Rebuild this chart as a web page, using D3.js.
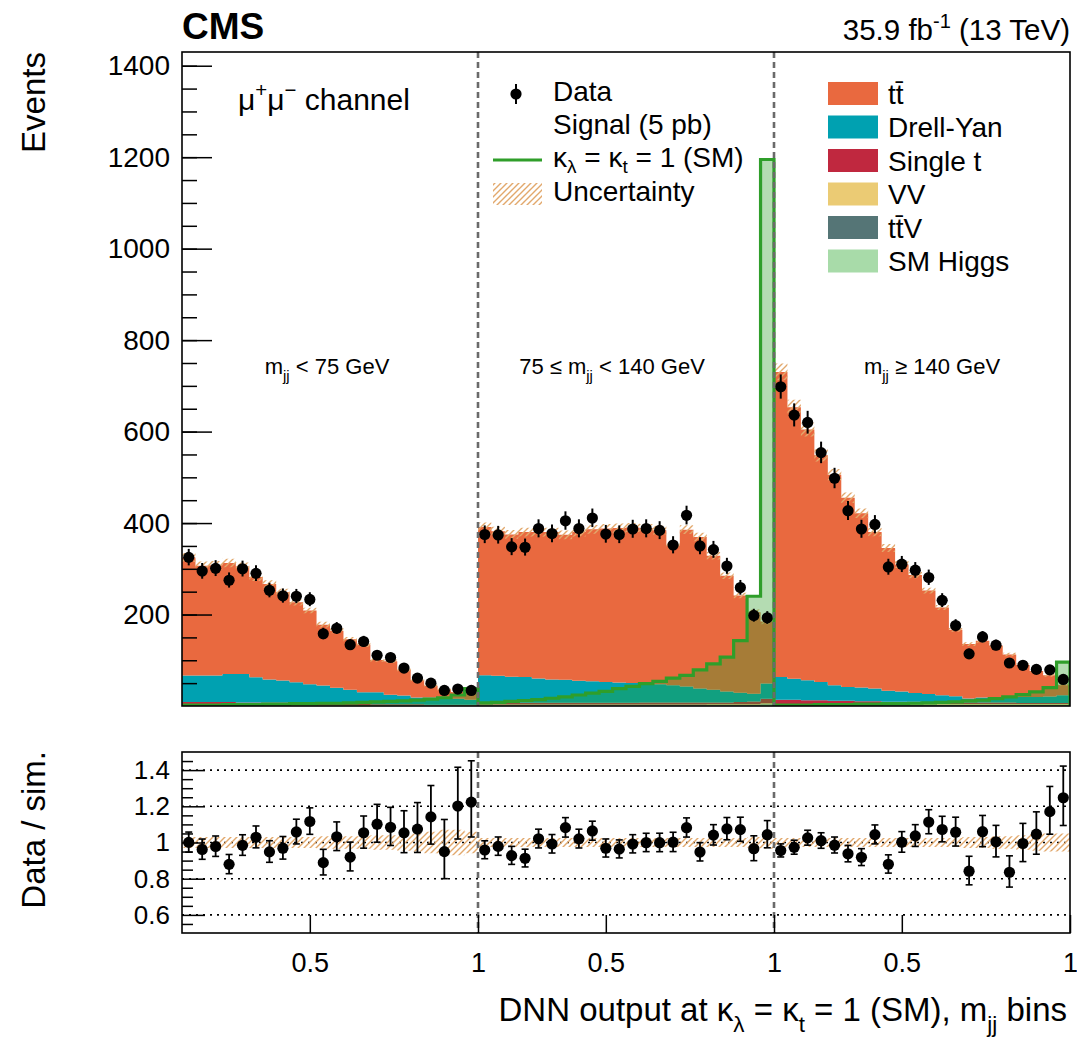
<!DOCTYPE html>
<html>
<head>
<meta charset="utf-8">
<script src="https://cdn.jsdelivr.net/npm/d3@7"></script>
<style>
  body { margin: 0; background: #fff; }
  svg { display: block; }
  text { font-family: "Liberation Sans", Arial, Helvetica, sans-serif; fill: #000; }
</style>
</head>
<body>
<svg id="chart" width="1077" height="1043"></svg>
<script>
// ---- Binning: three m_jj regions, 22 DNN bins each (DNN output 0.12 .. 1.0) ----
const dnnLow = 0.12, dnnHigh = 1.0, binsPerRegion = 22;
const xTickValues = [0.5, 1];

// ---- Observed events per bin (regions concatenated) ----
const dataCounts = [
  325, 295, 301, 275, 300, 290, 253, 241, 240, 233, 158, 170, 134, 141, 111, 106, 83, 61, 50, 34, 37, 34,
  375, 374, 348, 347, 388, 377, 405, 388, 411, 376, 375, 387, 388, 384, 352, 417, 350, 342, 306, 259, 198, 193,
  698, 636, 620, 554, 498, 427, 387, 397, 304, 310, 297, 281, 231, 176, 114, 151, 133, 94, 89, 80, 79, 58
];

// ---- Simulated backgrounds ----
const ttbar = [
  258, 240, 241, 243, 235, 219, 209, 193, 175, 161, 133, 125, 110, 104, 71, 73, 56, 38, 25, 20, 15, 14,
  324, 316, 311, 317, 320, 322, 317, 325, 332, 336, 338, 340, 339, 337, 306, 343, 331, 293, 253, 213, 178, 136,
  667, 594, 548, 496, 460, 414, 381, 342, 312, 278, 258, 226, 192, 145, 119, 124, 113, 92, 70, 57, 47, 23
];
const drellYan = [
  58, 58, 58, 61, 62, 55, 50, 48, 45, 41, 39, 35, 31, 25, 26, 21, 19, 15, 16, 13, 13, 11,
  60, 59, 57, 56, 53, 51, 50, 48, 47, 45, 44, 43, 42, 40, 38, 35, 31, 28, 24, 20, 17, 33,
  50, 46, 44, 40, 34, 30, 30, 28, 24, 22, 19, 18, 15, 13, 9, 11, 12, 13, 13, 13, 14, 17
];
const singleTop = [
  6, 6, 6, 6, 5, 5, 5, 5, 4, 4, 4, 3, 3, 3, 2, 2, 2, 2, 1, 1, 1, 1,
  4, 4, 4, 4, 4, 4, 4, 4, 4, 4, 4, 4, 4, 4, 4, 4, 4, 4, 4, 5, 6, 10,
  9, 9, 8, 8, 7, 7, 6, 6, 5, 5, 5, 4, 4, 4, 3, 3, 3, 3, 2, 2, 2, 2
];
const diboson = [
  2, 2, 2, 2, 2, 2, 2, 2, 2, 2, 1, 1, 1, 1, 1, 1, 1, 1, 1, 1, 1, 1,
  2, 2, 2, 2, 2, 2, 2, 2, 2, 2, 2, 2, 2, 2, 2, 2, 2, 2, 2, 2, 2, 2,
  2, 2, 2, 2, 2, 2, 2, 2, 2, 2, 2, 2, 2, 2, 2, 2, 2, 2, 2, 2, 2, 2
];
const ttV = [
  0.5, 0.5, 0.5, 0.5, 0.5, 0.5, 0.5, 0.5, 0.5, 0.5, 0.5, 0.5, 0.5, 0.5, 0.5, 0.5, 0.5, 0.5, 0.5, 0.5, 0.5, 0.5,
  1, 1, 1, 1, 1, 1, 1, 1, 1, 1, 1, 1, 1, 1, 1, 1, 1, 1, 1, 1, 1, 1,
  2, 2, 2, 2, 2, 2, 2, 2, 2, 2, 2, 2, 2, 2, 2, 2, 2, 2, 2, 2, 2, 2
];
const smHiggs = [
  0.3, 0.3, 0.3, 0.3, 0.3, 0.3, 0.3, 0.3, 0.3, 0.3, 0.3, 0.3, 0.3, 0.3, 0.3, 0.3, 0.3, 0.3, 0.3, 0.3, 0.3, 0.3,
  0.2, 0.2, 0.2, 0.2, 0.2, 0.2, 0.2, 0.3, 0.3, 0.3, 0.3, 0.3, 0.4, 0.4, 0.4, 0.5, 0.5, 0.6, 0.7, 0.8, 1, 3,
  0.5, 0.5, 0.5, 0.5, 0.5, 0.5, 0.5, 0.5, 0.5, 0.5, 0.5, 0.5, 0.5, 0.5, 0.5, 0.5, 0.5, 0.5, 0.5, 0.5, 0.5, 0.5
];

// ---- HH signal (5 pb), SM couplings ----
const signal = [
  2, 2, 2, 3, 3, 3, 4, 4, 5, 5, 6, 6, 7, 8, 9, 10, 11, 13, 15, 18, 24, 38,
  7, 8, 10, 12, 14, 17, 20, 24, 28, 32, 38, 43, 49, 54, 61, 67, 79, 92, 107, 143, 240, 1195,
  2, 2, 2, 3, 3, 3, 4, 4, 5, 5, 6, 7, 8, 9, 11, 13, 16, 20, 25, 31, 40, 96
];

// ---- Relative systematic uncertainty of the total simulation ----
const relUnc = [
  0.03, 0.03, 0.03, 0.03, 0.03, 0.03, 0.03, 0.03, 0.03, 0.03, 0.035, 0.035, 0.035, 0.035, 0.04, 0.04, 0.045, 0.05, 0.06, 0.07, 0.07, 0.06,
  0.025, 0.025, 0.025, 0.025, 0.025, 0.025, 0.025, 0.025, 0.025, 0.025, 0.025, 0.025, 0.025, 0.025, 0.025, 0.025, 0.025, 0.025, 0.025, 0.025, 0.03, 0.035,
  0.025, 0.025, 0.025, 0.025, 0.025, 0.025, 0.025, 0.025, 0.025, 0.025, 0.025, 0.025, 0.025, 0.025, 0.03, 0.03, 0.035, 0.035, 0.04, 0.045, 0.05, 0.05
];

// ---- Axis ticks ----
const yMajorMain = [200, 400, 600, 800, 1000, 1200, 1400];
const yMinorMain = d3.range(50, 1430, 50);
const yMajorRatio = [0.6, 0.8, 1, 1.2, 1.4];
const yMinorRatio = [0.55, 0.65, 0.7, 0.75, 0.85, 0.9, 0.95, 1.05, 1.1, 1.15, 1.25, 1.3, 1.35, 1.45];

// ---- Stack order (bottom to top) and colours ----
const stackKeys = ["smHiggs", "ttV", "diboson", "singleTop", "drellYan", "ttbar"];
const series = { smHiggs, ttV, diboson, singleTop, drellYan, ttbar };
const colors = {
  ttbar: "#e9693f", drellYan: "#00a1b1", singleTop: "#c0283f",
  diboson: "#ebcb74", ttV: "#557576", smHiggs: "#a8dba9"
};
const legendEntries = [
  { key: "ttbar", parts: [{ t: "t" }, { t: "t\u0304" }] },
  { key: "drellYan", parts: [{ t: "Drell-Yan" }] },
  { key: "singleTop", parts: [{ t: "Single t" }] },
  { key: "diboson", parts: [{ t: "VV" }] },
  { key: "ttV", parts: [{ t: "t" }, { t: "t\u0304" }, { t: "V" }] },
  { key: "smHiggs", parts: [{ t: "SM Higgs" }] }
];
const signalColor = "#2f9e2a";
const hatchColor = "#e2a86c";
const separatorColor = "#6a6a6a";

// ---- Layout ----
const left = 182, right = 1070;
const mainTop = 52, mainBottom = 706;
const ratioTop = 752, ratioBottom = 933;
const nBins = dataCounts.length;

const svg = d3.select("#chart");

// Scales: a bin-index axis for drawing, one DNN scale per region for the tick values
const x = d3.scaleLinear().domain([0, nBins]).range([left, right]);
const yMain = d3.scaleLinear().domain([0, 1430]).range([mainBottom, mainTop]);
const yRatio = d3.scaleLinear().domain([0.5, 1.5]).range([ratioBottom, ratioTop]);
const nRegions = nBins / binsPerRegion;
const regionScales = d3.range(nRegions).map(r =>
  d3.scaleLinear().domain([dnnLow, dnnHigh]).range([r * binsPerRegion, (r + 1) * binsPerRegion]));

// ---- defs: hatch pattern and clip paths ----
const defs = svg.append("defs");
const hatch = defs.append("pattern").attr("id", "hatch")
  .attr("patternUnits", "userSpaceOnUse").attr("width", 6).attr("height", 6);
hatch.append("path").attr("d", "M-1,1 l2,-2 M0,6 l6,-6 M5,7 l2,-2")
  .attr("stroke", hatchColor).attr("stroke-width", 1.4);
defs.append("clipPath").attr("id", "clipMain").append("rect")
  .attr("x", left).attr("y", mainTop).attr("width", right - left).attr("height", mainBottom - mainTop);
defs.append("clipPath").attr("id", "clipRatio").append("rect")
  .attr("x", left).attr("y", ratioTop).attr("width", right - left).attr("height", ratioBottom - ratioTop);

// ---- helper for text with sub/superscripts ----
function richText(sel, parts, size, subShift = 0.32) {
  let offset = 0;
  parts.forEach(p => {
    const target = p.sub ? size * subShift : p.sup ? -size * 0.42 : 0;
    const ts = sel.append("tspan").text(p.t);
    if (target !== offset) ts.attr("dy", target - offset);
    if (p.sub || p.sup) ts.attr("font-size", size * 0.68);
    offset = target;
  });
  return sel;
}

// ================= MAIN PANEL =================
const main = svg.append("g").attr("clip-path", "url(#clipMain)");

const rows = d3.range(nBins).map(i => {
  const o = {};
  stackKeys.forEach(k => o[k] = series[k][i]);
  return o;
});
const layers = d3.stack().keys(stackKeys)(rows);
const total = layers[layers.length - 1].map(d => d[1]);

const withEnd = arr => arr.concat([{ ...arr[arr.length - 1], i: nBins }]);
const stepArea = d3.area().curve(d3.curveStepAfter)
  .x(p => x(p.i)).y0(p => yMain(p.y0)).y1(p => yMain(p.y1));

layers.forEach(layer => {
  const pts = withEnd(layer.map((d, i) => ({ i, y0: d[0], y1: d[1] })));
  main.append("path").attr("d", stepArea(pts)).attr("fill", colors[layer.key]);
});

// uncertainty band on top of the stack
const uncPts = withEnd(total.map((t, i) => ({ i, y0: t * (1 - relUnc[i]), y1: t * (1 + relUnc[i]) })));
main.append("path").attr("d", stepArea(uncPts)).attr("fill", "url(#hatch)");

// signal: translucent fill plus outline
const sigPts = withEnd(signal.map((s, i) => ({ i, y0: 0, y1: s })));
main.append("path").attr("d", stepArea(sigPts)).attr("fill", signalColor).attr("fill-opacity", 0.36);
const sigOutline = [[0, 0]];
signal.forEach((s, i) => { sigOutline.push([i, s], [i + 1, s]); });
sigOutline.push([nBins, 0]);
main.append("path")
  .attr("d", d3.line().x(p => x(p[0])).y(p => yMain(p[1]))(sigOutline))
  .attr("fill", "none").attr("stroke", signalColor).attr("stroke-width", 3.2);

// data with Poisson-style errors
const errUp = n => Math.sqrt(n + 0.25) + 0.5;
const errDn = n => Math.sqrt(n + 0.25) - 0.5;
const dataG = main.append("g");
dataCounts.forEach((n, i) => {
  dataG.append("line").attr("x1", x(i + 0.5)).attr("x2", x(i + 0.5))
    .attr("y1", yMain(n - errDn(n))).attr("y2", yMain(n + errUp(n)))
    .attr("stroke", "#000").attr("stroke-width", 2);
  dataG.append("circle").attr("cx", x(i + 0.5)).attr("cy", yMain(n)).attr("r", 5.6).attr("fill", "#000");
});

// region separators
const sepX = d3.range(1, nRegions).map(r => x(r * binsPerRegion));
sepX.forEach(sx => {
  svg.append("line").attr("x1", sx).attr("x2", sx).attr("y1", mainTop).attr("y2", mainBottom)
    .attr("stroke", separatorColor).attr("stroke-width", 2.6).attr("stroke-dasharray", "6,4");
});

// y axis (ticks pointing inward)
const yAxisMain = svg.append("g").attr("transform", `translate(${left},0)`);
yAxisMain.call(d3.axisLeft(yMain).tickValues(yMinorMain).tickSize(-15).tickFormat(""));
yAxisMain.append("g").call(d3.axisLeft(yMain).tickValues(yMajorMain).tickSize(-30).tickPadding(12).tickFormat(d3.format("d")));
yAxisMain.selectAll(".domain").remove();
yAxisMain.selectAll(".tick line").attr("stroke", "#000").attr("stroke-width", 1.5);
yAxisMain.selectAll(".tick text").attr("font-size", 28).attr("font-family", "Liberation Sans, Arial, sans-serif");

svg.append("rect").attr("x", left).attr("y", mainTop).attr("width", right - left).attr("height", mainBottom - mainTop)
  .attr("fill", "none").attr("stroke", "#000").attr("stroke-width", 1.6);

// ================= RATIO PANEL =================
const ratioG = svg.append("g").attr("clip-path", "url(#clipRatio)");

// dotted reference lines
yMajorRatio.forEach(v => {
  ratioG.append("line").attr("x1", left).attr("x2", right).attr("y1", yRatio(v)).attr("y2", yRatio(v))
    .attr("stroke", "#000").attr("stroke-width", 1.6).attr("stroke-dasharray", "2,5");
});

// uncertainty band around 1
const ratioArea = d3.area().curve(d3.curveStepAfter)
  .x(p => x(p.i)).y0(p => yRatio(p.y0)).y1(p => yRatio(p.y1));
const ratioUncPts = withEnd(relUnc.map((u, i) => ({ i, y0: 1 - u, y1: 1 + u })));
ratioG.append("path").attr("d", ratioArea(ratioUncPts)).attr("fill", "url(#hatch)");

// data / simulation points
dataCounts.forEach((n, i) => {
  const cx = x(i + 0.5);
  const r = n / total[i];
  const lo = (n - errDn(n)) / total[i], hi = (n + errUp(n)) / total[i];
  ratioG.append("line").attr("x1", cx).attr("x2", cx).attr("y1", yRatio(lo)).attr("y2", yRatio(hi))
    .attr("stroke", "#000").attr("stroke-width", 1.8);
  [lo, hi].forEach(v => ratioG.append("line").attr("x1", cx - 3.5).attr("x2", cx + 3.5)
    .attr("y1", yRatio(v)).attr("y2", yRatio(v)).attr("stroke", "#000").attr("stroke-width", 1.6));
  ratioG.append("circle").attr("cx", cx).attr("cy", yRatio(r)).attr("r", 5.6).attr("fill", "#000");
});

sepX.forEach(sx => {
  svg.append("line").attr("x1", sx).attr("x2", sx).attr("y1", ratioTop).attr("y2", ratioBottom)
    .attr("stroke", separatorColor).attr("stroke-width", 2.6).attr("stroke-dasharray", "6,4");
});

const yAxisRatio = svg.append("g").attr("transform", `translate(${left},0)`);
yAxisRatio.call(d3.axisLeft(yRatio).tickValues(yMinorRatio).tickSize(-11).tickFormat(""));
yAxisRatio.append("g").call(d3.axisLeft(yRatio).tickValues(yMajorRatio).tickSize(-23).tickPadding(12).tickFormat(d => String(d)));
yAxisRatio.selectAll(".domain").remove();
yAxisRatio.selectAll(".tick line").attr("stroke", "#000").attr("stroke-width", 1.5);
yAxisRatio.selectAll(".tick text").attr("font-size", 26).attr("font-family", "Liberation Sans, Arial, sans-serif");

// x axis: DNN ticks for each region
const xTicks = [];
regionScales.forEach(rs => xTickValues.forEach(v => xTicks.push({ pos: rs(v), label: v })));
const tickLabel = new Map(xTicks.map(t => [t.pos, t.label]));
const xAxisG = svg.append("g").attr("transform", `translate(0,${ratioBottom})`)
  .call(d3.axisBottom(x).tickValues(xTicks.map(t => t.pos)).tickSize(-18).tickPadding(20)
    .tickFormat(p => String(tickLabel.get(p))));
xAxisG.select(".domain").remove();
xAxisG.selectAll(".tick line").attr("stroke", "#000").attr("stroke-width", 1.5);
xAxisG.selectAll(".tick text").attr("font-size", 27).attr("font-family", "Liberation Sans, Arial, sans-serif");

svg.append("rect").attr("x", left).attr("y", ratioTop).attr("width", right - left).attr("height", ratioBottom - ratioTop)
  .attr("fill", "none").attr("stroke", "#000").attr("stroke-width", 1.6);

// ================= TEXT =================
svg.append("text").attr("x", left).attr("y", 39).attr("font-size", 37).attr("font-weight", "bold").text("CMS");
richText(svg.append("text").attr("x", right).attr("y", 40).attr("font-size", 29.5).attr("text-anchor", "end"),
  [{ t: "35.9 fb" }, { t: "-1", sup: true }, { t: " (13 TeV)" }], 29.5);

svg.append("text").attr("transform", `translate(45,${mainTop}) rotate(-90)`)
  .attr("text-anchor", "end").attr("font-size", 33).text("Events");
svg.append("text").attr("transform", `translate(45,${ratioTop - 1}) rotate(-90)`)
  .attr("text-anchor", "end").attr("font-size", 33).text("Data / sim.");

richText(svg.append("text").attr("x", 1067).attr("y", 1021).attr("font-size", 33).attr("text-anchor", "end"),
  [{ t: "DNN output at " }, { t: "κ" }, { t: "λ", sub: true }, { t: " = " }, { t: "κ" }, { t: "t", sub: true },
   { t: " = 1 (SM), m" }, { t: "jj", sub: true }, { t: " bins" }], 33);

richText(svg.append("text").attr("x", 238).attr("y", 110).attr("font-size", 30),
  [{ t: "μ" }, { t: "+", sup: true }, { t: "μ" }, { t: "−", sup: true }, { t: " channel" }], 30);

const regionLabels = [
  { cx: 327, parts: [{ t: "m" }, { t: "jj", sub: true }, { t: " < 75 GeV" }] },
  { cx: 612, parts: [{ t: "75 ≤ m" }, { t: "jj", sub: true }, { t: " < 140 GeV" }] },
  { cx: 932, parts: [{ t: "m" }, { t: "jj", sub: true }, { t: " ≥ 140 GeV" }] }
];
regionLabels.forEach(l => richText(svg.append("text").attr("x", l.cx).attr("y", 374)
  .attr("font-size", 22).attr("text-anchor", "middle"), l.parts, 22));

// ---- left legend ----
const legL = svg.append("g");
legL.append("line").attr("x1", 516).attr("x2", 516).attr("y1", 84).attr("y2", 104).attr("stroke", "#000").attr("stroke-width", 2);
legL.append("circle").attr("cx", 516).attr("cy", 94).attr("r", 5.6).attr("fill", "#000");
legL.append("text").attr("x", 553).attr("y", 101).attr("font-size", 28).text("Data");
legL.append("text").attr("x", 553).attr("y", 134).attr("font-size", 28).text("Signal (5 pb)");
legL.append("line").attr("x1", 493).attr("x2", 542).attr("y1", 160).attr("y2", 160)
  .attr("stroke", signalColor).attr("stroke-width", 3.2);
richText(legL.append("text").attr("x", 553).attr("y", 167).attr("font-size", 28),
  [{ t: "κ" }, { t: "λ", sub: true }, { t: " = " }, { t: "κ" }, { t: "t", sub: true }, { t: " = 1 (SM)" }], 28, 0.22);
legL.append("rect").attr("x", 493).attr("y", 183).attr("width", 49).attr("height", 22).attr("fill", "url(#hatch)");
legL.append("text").attr("x", 553).attr("y", 201).attr("font-size", 28).text("Uncertainty");

// ---- right legend (backgrounds) ----
const legR = svg.append("g");
legendEntries.forEach((e, k) => {
  const y0 = 82 + k * 33.5;
  legR.append("rect").attr("x", 828).attr("y", y0).attr("width", 50).attr("height", 23).attr("fill", colors[e.key]);
  richText(legR.append("text").attr("x", 888).attr("y", y0 + 21.5).attr("font-size", 28), e.parts, 28);
});
</script>
</body>
</html>
